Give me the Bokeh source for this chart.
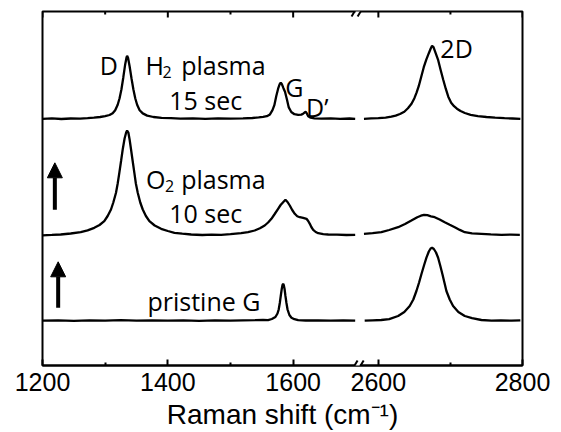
from bokeh.plotting import figure
from bokeh.models import FixedTicker, Label, Arrow, NormalHead
from bokeh.embed import file_html
from bokeh.resources import INLINE

# ---------------- data (Raman shift in cm^-1, intensity above each baseline, a.u.) -------------
# H2 plasma 15 sec
h2_left_x = [1200, 1215, 1230, 1245, 1260, 1272, 1282, 1292, 1300, 1307, 1312, 1316, 1320, 1323, 1326,
             1329, 1332, 1334, 1335, 1336.5, 1339, 1342, 1345, 1348, 1351, 1355, 1360, 1367, 1377, 1390,
             1405, 1420, 1440, 1460, 1480, 1500, 1520, 1535, 1545, 1552, 1558, 1563, 1567, 1570, 1573,
             1576, 1578.5, 1580.2, 1582, 1584.5, 1587, 1590, 1593, 1597, 1602, 1608, 1613, 1616, 1618.5,
             1620.2, 1622, 1624, 1628, 1634, 1645, 1660, 1675, 1690, 1699]
h2_left_y = [0.3, 0.8, 0.2, 0.7, 0.6, 1.0, 1.5, 2.2, 3.0, 4.2, 6.0, 9.0, 14.5, 21, 30,
             42, 55, 61.5, 63.3, 61.5, 53, 41, 30, 21, 14.5, 9.0, 5.8, 3.6, 2.2, 1.4,
             1.0, 0.6, 0.9, 0.4, 0.8, 0.6, 0.9, 1.2, 1.8, 2.4, 3.0, 4.8, 9.0, 14, 23,
             30.5, 35, 36.6, 35, 31, 27.5, 20, 11.8, 7.2, 5.0, 4.3, 4.6, 5.5, 6.8,
             7.3, 5.5, 3.0, 1.5, 0.8, 0.5, 0.8, 0.3, 0.7, 0.4]
h2_right_x = [2580, 2590, 2600, 2610, 2618, 2624, 2630, 2636, 2641, 2646, 2650, 2653, 2656, 2659.5, 2663,
              2666.5, 2670, 2672.5, 2674.5, 2676.5, 2679, 2683, 2686.5, 2690, 2693.5, 2697, 2701, 2705,
              2709, 2714, 2720, 2728, 2738, 2750, 2762, 2775, 2786, 2797]
h2_right_y = [0.4, 0.8, 1.0, 1.6, 2.5, 3.6, 5.2, 7.5, 11, 15.5, 21, 26.5, 33, 42.5, 52,
              59.5, 66, 70.5, 73.3, 72, 67, 59, 49, 39.5, 30.5, 22.5, 16.5, 13,
              10.5, 8.2, 6.2, 4.4, 3.0, 2.2, 1.6, 1.0, 0.7, 0.4]

# O2 plasma 10 sec
o2_left_x = [1200, 1215, 1229, 1245, 1261, 1272, 1282.6, 1291, 1298.6, 1304, 1309.3, 1313, 1317.3, 1320,
             1322.6, 1325.5, 1328, 1331, 1333.5, 1335, 1337, 1339, 1341.3, 1344, 1346.6, 1349, 1352, 1356,
             1360, 1365, 1370.6, 1379, 1389.3, 1400, 1410.6, 1423, 1437.3, 1455, 1470, 1485, 1500, 1517,
             1528, 1538.6, 1547, 1554.6, 1560, 1565.3, 1570, 1576, 1580, 1584, 1587.7, 1591, 1594.6,
             1598.5, 1602.6, 1606.5, 1610.6, 1616, 1621.3, 1624, 1626.6, 1629, 1632, 1636, 1640, 1648,
             1656, 1670, 1685, 1699]
o2_left_y = [0.2, 0.6, 1.0, 2.0, 3.3, 5.2, 7.7, 10.5, 14.3, 19.5, 26, 33, 42.7, 52,
             62.7, 75, 86, 97, 103, 105, 103, 96, 86, 74, 62.7, 52, 42.7, 33,
             26, 19.5, 14.3, 10, 6.7, 4.5, 2.7, 1.8, 1.0, 0.5, 0.8, 0.7, 1.3, 2.3,
             3.4, 5.0, 7.2, 10, 13, 16.7, 21, 26.7, 30.5, 33.3, 35.7, 33.5, 30,
             25.5, 21.7, 19.3, 18.3, 17.6, 16.7, 14.5, 11.7, 8.5, 5.7, 3.5, 2.3, 1.4,
             1.0, 0.8, 0.5, 0.7]
o2_right_x = [2580, 2592, 2604.2, 2615, 2627.4, 2637, 2645.8, 2654, 2659, 2663.4, 2668, 2673, 2678.2, 2685,
              2692.1, 2699, 2706, 2713, 2719.9, 2730, 2743, 2756, 2770.8, 2784, 2796.3]
o2_right_y = [1.7, 2.4, 3.3, 5.5, 8.3, 11.5, 15, 18.3, 19.8, 20.7, 20.3, 19.2, 18.3, 16,
              13.3, 10.8, 8.3, 5.6, 3.3, 2.2, 1.7, 1.2, 0.7, 0.9, 0.7]

# pristine G
pr_left_x = [1200, 1225, 1250, 1275, 1300, 1325, 1350, 1375, 1400, 1425, 1450, 1475, 1500, 1520, 1540,
             1552, 1560, 1566, 1571.7, 1575, 1577, 1578.7, 1580.2, 1581.8, 1583, 1584, 1585, 1586.3,
             1587.7, 1589.3, 1591, 1594, 1597.3, 1602, 1608, 1620, 1640, 1660, 1680, 1699]
pr_left_y = [0.3, 0.7, 0.2, 0.6, 0.3, 0.8, 0.4, 0.7, 0.3, 0.6, 0.2, 0.7, 0.4, 0.6, 0.8,
             1.0, 0.9, 2.0, 4.0, 7.5, 11.7, 18, 25, 32, 36, 37.3, 36, 32,
             25, 18, 11.7, 6, 3.3, 1.8, 0.8, 0.5, 0.7, 0.3, 0.6, 0.4]
pr_right_x = [2581, 2592, 2604, 2615, 2627.4, 2636, 2643.5, 2648.5, 2652.8, 2656.5, 2659.7, 2663.5, 2666.7,
              2670, 2672.5, 2674.5, 2677, 2680, 2682.9, 2686, 2688.9, 2691.8, 2694.4, 2699, 2703.7, 2711,
              2719.9, 2730, 2743, 2757, 2770, 2785, 2797]
pr_right_y = [0.3, 0.7, 1.0, 1.8, 5, 9, 15, 21.5, 30, 38.5, 46.7, 56, 63.3,
              69.5, 72.5, 73.3, 72, 68.5, 63.3, 55, 46.7, 38, 30, 21.5, 15, 9,
              5, 2.8, 1.0, 0.4, 0.7, 0.3, 0.6]

# vertical offsets of the stacked spectra
offsets = {"h2": 246.3, "o2": 130.0, "pristine": 44.5}

# axis ticks
left_ticks = [1200, 1400, 1600]
left_minor = [1300, 1500]
right_ticks = [2600, 2800]
right_minor = [2700]

# ---------------- broken-axis scale: right segment compressed onto the same frame ----------------
BREAK_POS = 1736.0   # plot coordinate for 2600 cm^-1
K = 1.15             # relative scale of the right segment


def xr(vals):
    return [BREAK_POS + (v - 2600) * K for v in vals]


def shift(vals, off):
    return [v + off for v in vals]


X0, X1 = 1200, xr([2800])[0]
Y0, Y1 = 0, 354

p = figure(width=552, height=432, x_range=(X0, X1), y_range=(Y0, Y1),
           output_backend="svg", toolbar_location=None, y_axis_type=None,
           min_border_left=42, min_border_right=30, min_border_top=11, min_border_bottom=67)
p.grid.visible = False
p.outline_line_color = "black"
p.outline_line_width = 2
p.outline_line_alpha = 1.0
p.background_fill_color = "white"
p.border_fill_color = "white"

LW = 2.3
for lx, ly, rx, ry, key in [(h2_left_x, h2_left_y, h2_right_x, h2_right_y, "h2"),
                            (o2_left_x, o2_left_y, o2_right_x, o2_right_y, "o2"),
                            (pr_left_x, pr_left_y, pr_right_x, pr_right_y, "pristine")]:
    off = offsets[key]
    p.line(lx, shift(ly, off), line_color="black", line_width=LW)
    p.line(xr(rx), shift(ry, off), line_color="black", line_width=LW)

# x axis
major = left_ticks + xr(right_ticks)
minor = left_minor + xr(right_minor)
ax = p.xaxis[0]
ax.ticker = FixedTicker(ticks=major, minor_ticks=minor)
ax.major_label_overrides = {t: str(v) for t, v in zip(xr(right_ticks), right_ticks)}
ax.axis_line_width = 2
ax.axis_line_color = "black"
ax.major_tick_in = 6
ax.major_tick_out = 0
ax.minor_tick_in = 3
ax.minor_tick_out = 0
ax.major_tick_line_width = 2
ax.minor_tick_line_width = 2
ax.major_tick_line_color = "black"
ax.minor_tick_line_color = "black"
ax.major_label_text_font = "Liberation Sans"
ax.major_label_text_font_size = "25px"
ax.major_label_text_color = "black"
ax.major_label_standoff = 7
ax.axis_label = "Raman shift (cm\u207b\u00b9)"
ax.axis_label_text_font = "Liberation Sans"
ax.axis_label_text_font_size = "28px"
ax.axis_label_text_font_style = "normal"
ax.axis_label_text_color = "black"
ax.axis_label_standoff = 5

# mirrored ticks on the top edge
p.segment(x0=major, y0=[Y1] * len(major), x1=major, y1=[Y1 - 6] * len(major),
          line_color="black", line_width=2)
p.segment(x0=minor, y0=[Y1] * len(minor), x1=minor, y1=[Y1 - 3] * len(minor),
          line_color="black", line_width=2)

# axis break marks "//"
for yb in (Y0, Y1):
    p.add_layout(Arrow(x_start=1699.5, y_start=yb, x_end=1706.5, y_end=yb, start=None, end=None,
                       line_color="white", line_width=5))
    for xc in (1698.0, 1707.7):
        p.add_layout(Arrow(x_start=xc - 4.8, y_start=yb - 5, x_end=xc + 4.8, y_end=yb + 5,
                           start=None, end=None, line_color="black", line_width=2))

# arrows (stacking direction)
for xa, ya0, ya1 in [(1219.7, 155.7, 206.7), (1225.0, 57.7, 107.7)]:
    p.add_layout(Arrow(x_start=xa, y_start=ya0, x_end=xa, y_end=ya1 - 4, line_width=4, line_color="black",
                       end=NormalHead(size=15, fill_color="black", line_color="black", line_width=1)))

# annotations
FONT = "Open Sans"
DY = 9
labels = [
    ("D", 1306, 291.5, "center", "25px"),
    ("H", 1364.5, 291.5, "left", "25px"),
    ("2", 1391.5, 285, "left", "16px"),
    ("plasma", 1421.3, 291.5, "left", "25px"),
    ("15 sec", 1460.5, 256.7, "center", "25px"),
    ("G", 1602, 270, "center", "25px"),
    ("D\u2019", 1620.5, 250, "left", "25px"),
    ("2D", 1834.9, 309, "left", "25px"),
    ("O", 1365.3, 177.5, "left", "25px"),
    ("2", 1395.3, 171, "left", "16px"),
    ("plasma", 1421.3, 177.5, "left", "25px"),
    ("10 sec", 1460.5, 143.3, "center", "25px"),
    ("pristine G", 1457.6, 55.5, "center", "25px"),
]
for txt, lx, ly, al, fs in labels:
    p.add_layout(Label(x=lx, y=ly + DY, text=txt, text_font=FONT, text_font_size=fs, text_align=al,
                       text_baseline="alphabetic", text_color="black"))

open("out.html", "w").write(file_html(p, INLINE))
